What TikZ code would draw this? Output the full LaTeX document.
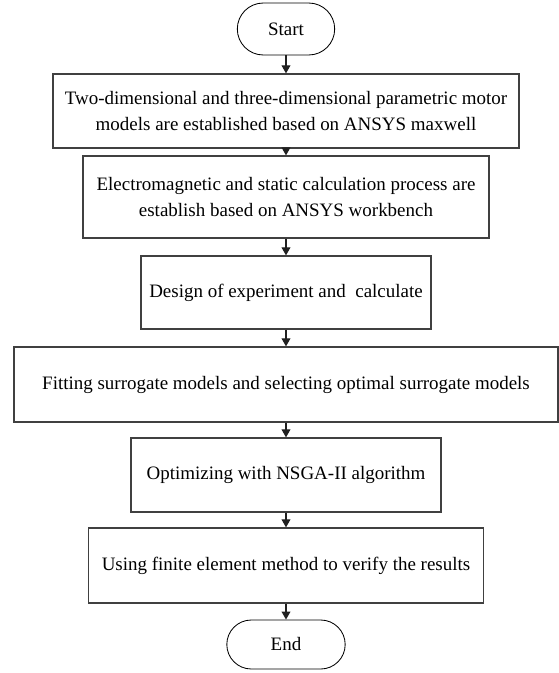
\documentclass[tikz,border=0pt]{standalone}
\usepackage{fontspec}
\setmainfont{Liberation Serif}
\usepackage{xcolor,tikz}
\usetikzlibrary{positioning,calc,arrows.meta,shapes.misc}
\definecolor{flowBoxLine}{HTML}{404040}
\definecolor{flowArrowLine}{HTML}{202020}
\tikzset{
  flow term/.style={
    rounded rectangle, draw=black, line width=0.6pt,
    font=\fontsize{13.5}{18}\selectfont, inner sep=2pt,
  },
  flow box/.style={
    rectangle, draw=flowBoxLine, line width=0.9pt,
    font=\fontsize{13.5}{18}\selectfont, align=center,
    inner sep=2pt,
  },
  flow arrow/.style={
    -{Triangle[length=0.2cm, width=0.22cm]},
    line width=0.8pt, color=flowArrowLine,
  },
}

\begin{document}
\begin{tikzpicture}

\useasboundingbox (0,0) rectangle (13.975,-16.825);

\def\xO{7.15}

% --- STEPS ---
\node[flow term, minimum width=2.575cm, minimum height=1.3cm]
  (start) at (\xO, -0.725) {Start};
\node[flow box, minimum width=11.65cm, minimum height=1.85cm]
  (model) at (\xO, -2.775)
  {Two-dimensional and three-dimensional parametric motor\\
   models are established based on ANSYS maxwell};
\node[flow box, minimum width=10.15cm, minimum height=2.05cm]
  (calc) at (\xO, -4.925)
  {Electromagnetic and static calculation process are\\
   establish based on ANSYS workbench};
\node[flow box, minimum width=7.25cm, minimum height=1.825cm]
  (doe) at (\xO, -7.3125) {Design of experiment and \ calculate};
\node[flow box, minimum width=13.6cm, minimum height=1.875cm]
  (surr) at (\xO, -9.6125)
  {Fitting surrogate models and selecting optimal surrogate models};
\node[flow box, minimum width=7.75cm, minimum height=1.85cm]
  (nsga) at (\xO, -11.875) {Optimizing with NSGA-II algorithm};
\node[flow box, minimum width=9.875cm, minimum height=1.875cm]
  (fem) at (\xO, -14.1375)
  {Using finite element method to verify the results};
\node[flow term, minimum width=3.1cm, minimum height=1.225cm]
  (end) at (\xO, -16.1125) {End};

% --- ARROWS ---
\draw[flow arrow] (start.south) -- (model.north);
\draw[flow arrow] (model.south) -- (calc.north);
\draw[flow arrow] (calc.south) -- (doe.north);
\draw[flow arrow] (doe.south) -- (surr.north);
\draw[flow arrow] (surr.south) -- (nsga.north);
\draw[flow arrow] (nsga.south) -- (fem.north);
\draw[flow arrow] (fem.south) -- (end.north);

\end{tikzpicture}
\end{document}
